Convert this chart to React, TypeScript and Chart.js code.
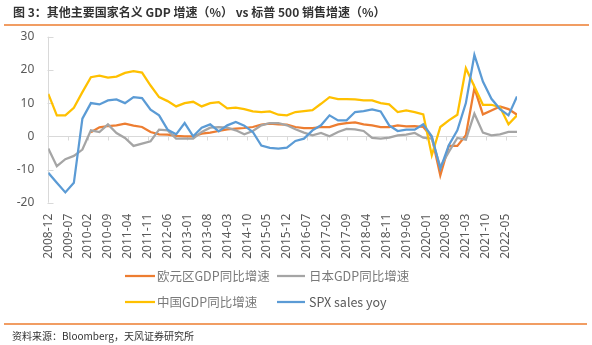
import React, { useEffect, useRef } from "react";
import { Chart, registerables } from "chart.js";

Chart.register(...registerables);

const W = 592;
const H = 345;

// Quarterly observations, 2008-12 .. 2022-09
const firstQuarter = { year: 2008, month: 12 };
const quarterCount = 56;
const quarters: string[] = Array.from({ length: quarterCount }, (_, i) => {
  const total = firstQuarter.year * 12 + (firstQuarter.month - 1) + i * 3;
  const y = Math.floor(total / 12);
  const m = (total % 12) + 1;
  return `${y}-${String(m).padStart(2, "0")}`;
});

const euroGDP: (number | null)[] = [
  null, null, null, null, null, 1.2, 2.7, 3.1, 3.3, 3.8, 3.2, 2.8, 1.3, 0.6,
  0.5, 0.1, 0.0, 0.0, 0.8, 1.1, 1.6, 2.1, 2.3, 2.5, 2.8, 3.5, 3.8, 3.6,
  3.5, 2.8, 2.5, 2.5, 2.8, 2.8, 3.6, 4.0, 4.2, 3.6, 3.3, 2.8, 2.8, 3.3,
  3.0, 3.1, 2.8, -0.2, -11.8, -2.9, -2.9, 0.3, 14.5, 6.6, 7.8, 9.0, 8.2, 6.5,
];

const japanGDP: number[] = [
  -3.7, -9.0, -6.9, -5.9, -4.0, 1.8, 1.3, 3.6, 1.0, -0.5, -2.9, -2.2, -1.5, 2.0,
  1.8, -0.7, -0.7, -0.7, 1.3, 2.6, 2.8, 2.6, 1.8, 0.6, 1.6, 3.3, 4.0, 4.0,
  3.3, 2.1, 1.1, 0.3, 1.0, 0.0, 1.3, 2.2, 2.1, 1.6, -0.5, -0.7, -0.4, 0.3,
  0.5, 1.0, -0.4, -0.7, -9.2, -4.7, -0.5, -1.0, 6.8, 1.1, 0.3, 0.6, 1.3, 1.3,
];

const chinaGDP: number[] = [
  12.8, 6.3, 6.3, 8.6, 13.3, 17.8, 18.3, 17.7, 18.0, 19.1, 19.6, 19.2, 15.3, 11.8,
  10.6, 9.0, 10.0, 10.4, 9.0, 10.0, 10.3, 8.4, 8.6, 8.2, 7.5, 7.3, 7.5, 6.5,
  6.3, 7.3, 7.6, 7.9, 9.8, 11.8, 11.2, 11.2, 11.1, 10.8, 10.8, 10.0, 9.6, 7.3,
  7.8, 7.3, 6.6, -5.7, 2.8, 4.8, 6.5, 20.5, 15.0, 9.5, 9.5, 8.8, 3.6, 6.3,
];

const spxSales: number[] = [
  -11.0, -14.0, -16.9, -14.0, 5.3, 10.0, 9.6, 10.8, 11.1, 10.0, 11.8, 11.5, 8.0, 6.3,
  2.0, 0.6, 4.0, 0.0, 2.6, 3.6, 1.5, 3.3, 4.3, 3.2, 1.3, -2.8, -3.5, -3.7,
  -3.4, -1.4, -0.7, 1.8, 3.3, 6.3, 4.8, 4.8, 7.3, 7.6, 8.1, 7.5, 3.3, 1.6,
  2.0, 2.0, 3.6, 0.0, -9.8, -2.7, 1.8, 10.0, 24.5, 16.5, 11.3, 8.2, 6.3, 12.0,
];

const xTickLabels: string[] = [
  "2008-12", "2009-07", "2010-02", "2010-09", "2011-04", "2011-11",
  "2012-06", "2013-01", "2013-08", "2014-03", "2014-10", "2015-05",
  "2015-12", "2016-07", "2017-02", "2017-09", "2018-04", "2018-11",
  "2019-06", "2020-01", "2020-08", "2021-03", "2021-10", "2022-05",
];

const yMin = -20;
const yMax = 30;
const yStep = 5;

const seriesNames = ["欧元区GDP同比增速", "日本GDP同比增速", "中国GDP同比增速", "SPX sales yoy"];
const seriesColors = ["#ED7D31", "#A5A5A5", "#FFC000", "#5B9BD5"];

const titleText = "图 3：其他主要国家名义 GDP 增速（%） vs 标普 500 销售增速（%）";
const sourceText = "资料来源：Bloomberg，天风证券研究所";

function monthIndex(label: string): number {
  const [y, m] = label.split("-").map(Number);
  return y * 12 + (m - 1) - (firstQuarter.year * 12 + (firstQuarter.month - 1));
}

function monthLabel(idx: number): string {
  const total = firstQuarter.year * 12 + (firstQuarter.month - 1) + Math.round(idx);
  const y = Math.floor(total / 12);
  const m = (total % 12) + 1;
  return `${y}-${String(m).padStart(2, "0")}`;
}

const CJK = '"Noto Sans CJK SC", "Noto Sans", sans-serif';
const TICK_FONT = '"Noto Sans", "Noto Sans CJK SC", sans-serif';

const decorPlugin = {
  id: "decor",
  beforeDatasetsDraw(chart: any) {
    const { ctx, chartArea, scales } = chart;
    const xs = scales.x;
    const ys = scales.y;
    ctx.save();
    ctx.strokeStyle = "#d9d9d9";
    ctx.lineWidth = 1;
    ctx.beginPath();
    const ax = Math.round(chartArea.left) + 0.5;
    ctx.moveTo(ax, chartArea.top);
    ctx.lineTo(ax, chartArea.bottom);
    ys.ticks.forEach((t: any) => {
      const py = Math.round(ys.getPixelForValue(t.value)) + 0.5;
      ctx.moveTo(ax - 1, py);
      ctx.lineTo(ax + 5, py);
    });
    const y0 = Math.round(ys.getPixelForValue(0)) + 0.5;
    ctx.moveTo(chartArea.left, y0);
    ctx.lineTo(chartArea.right, y0);
    xs.ticks.forEach((t: any) => {
      const px = Math.round(xs.getPixelForValue(t.value)) + 0.5;
      ctx.moveTo(px, y0);
      ctx.lineTo(px, y0 + 4);
    });
    ctx.stroke();
    ctx.restore();
  },
  afterDraw(chart: any) {
    const { ctx } = chart;
    ctx.save();
    // Title
    ctx.fillStyle = "#333333";
    ctx.font = `bold 12px ${CJK}`;
    ctx.textBaseline = "middle";
    ctx.textAlign = "left";
    ctx.fillText(titleText, 13, 12.5);
    // Rules
    ctx.strokeStyle = "#ED7D31";
    ctx.lineWidth = 1.3;
    ctx.beginPath();
    ctx.moveTo(4, 25);
    ctx.lineTo(589, 25);
    ctx.moveTo(4, 324);
    ctx.lineTo(587, 324);
    ctx.stroke();
    // Legend
    const rows = [276, 302];
    const cols = [
      { x0: 125, x1: 155, tx: 157 },
      { x0: 277, x1: 305, tx: 309 },
    ];
    ctx.font = `12.5px ${CJK}`;
    seriesNames.forEach((name, i) => {
      const r = rows[Math.floor(i / 2)];
      const c = cols[i % 2];
      ctx.strokeStyle = seriesColors[i];
      ctx.lineWidth = 2.25;
      ctx.beginPath();
      ctx.moveTo(c.x0, r);
      ctx.lineTo(c.x1, r);
      ctx.stroke();
      ctx.fillStyle = i === 3 ? "#595959" : "#7a7a7a";
      ctx.fillText(name, c.tx, r + 0.5);
    });
    // Source
    ctx.fillStyle = "#333333";
    ctx.font = `10px ${CJK}`;
    ctx.fillText(sourceText, 12, 336.5);
    ctx.restore();
  },
};

export default function App() {
  const ref = useRef<HTMLCanvasElement | null>(null);

  useEffect(() => {
    if (!ref.current) return;
    const mk = (vals: (number | null)[]) =>
      quarters.map((q, i) => ({ x: monthIndex(q), y: vals[i] }));
    const all = [euroGDP, japanGDP, chinaGDP, spxSales];
    const chart = new Chart(ref.current, {
      type: "line",
      data: {
        datasets: all.map((vals, i) => ({
          label: seriesNames[i],
          data: mk(vals) as any,
          borderColor: seriesColors[i],
          backgroundColor: seriesColors[i],
          borderWidth: 2.25,
          pointRadius: 0,
          pointHoverRadius: 0,
          tension: 0,
          fill: false,
          order: 3 - i,
        })),
      },
      options: {
        responsive: false,
        animation: false,
        devicePixelRatio: 1,
        layout: { padding: { left: 0, right: W - 517, top: 36.7, bottom: 82.3 } },
        plugins: {
          legend: { display: false },
          tooltip: { enabled: false },
          title: { display: false },
        },
        scales: {
          x: {
            type: "linear",
            min: 0,
            max: monthIndex(quarters[quarters.length - 1]),
            grid: { display: false, drawTicks: false },
            border: { display: false },
            afterBuildTicks: (scale: any) => {
              scale.ticks = xTickLabels.map((l) => ({ value: monthIndex(l) }));
            },
            afterFit: (scale: any) => {
              scale.height = 60;
            },
            ticks: {
              autoSkip: false,
              maxRotation: 90,
              minRotation: 90,
              padding: 11,
              color: "#595959",
              font: { family: TICK_FONT, size: 12 },
              callback: (v: any) => monthLabel(Number(v)),
            },
          },
          y: {
            type: "linear",
            min: yMin,
            max: yMax,
            grid: { display: false, drawTicks: false },
            border: { display: false },
            afterFit: (scale: any) => {
              scale.width = 48.3;
            },
            ticks: {
              stepSize: yStep,
              padding: 14,
              color: "#595959",
              font: { family: TICK_FONT, size: 12 },
            },
          },
        },
      },
      plugins: [decorPlugin],
    });
    return () => chart.destroy();
  }, []);

  return (
    <div style={{ position: "absolute", left: 0, top: 0, width: W, height: H, background: "#fff" }}>
      <canvas ref={ref} width={W} height={H} style={{ display: "block", width: W, height: H }} />
    </div>
  );
}
